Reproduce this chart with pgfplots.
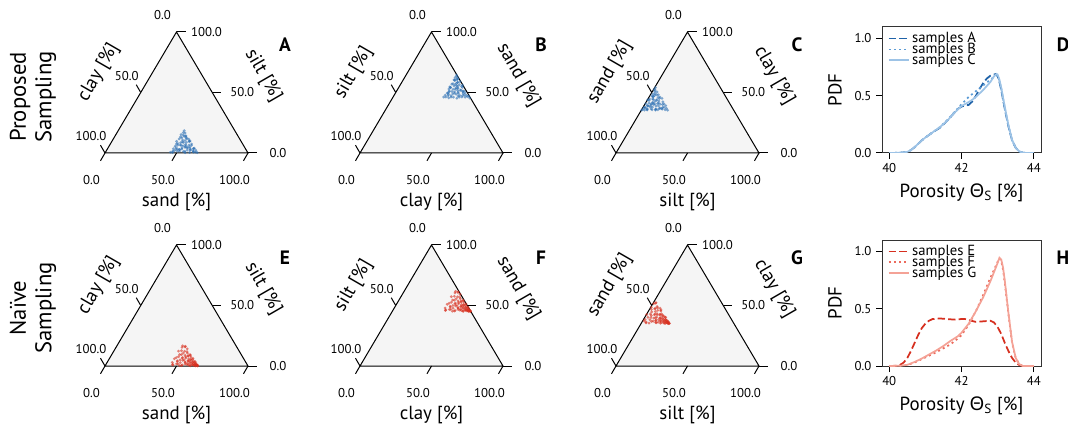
\documentclass[border=0pt]{standalone}
\usepackage{fontspec}
\setmainfont{PT Sans}
\newfontfamily\grk{Noto Sans}
\usepackage{pgfplots}
\usepackage{pgfplotstable}
\pgfplotsset{compat=1.18}

\definecolor{tribg}{HTML}{F5F5F5}
\definecolor{sblue}{HTML}{2C70B4}
\definecolor{sred}{HTML}{D8301F}
\definecolor{bdark}{HTML}{1F62A8}
\definecolor{bmid}{HTML}{5B9BD5}
\definecolor{blight}{HTML}{9DC3E6}
\definecolor{rdark}{HTML}{D62F1F}
\definecolor{rmid}{HTML}{EC6A5C}
\definecolor{rlight}{HTML}{F4A296}

\newcommand{\tickfont}{\fontsize{9.6}{11}\selectfont}
\newcommand{\labfont}{\fontsize{14.2}{16}\selectfont}
\newcommand{\legfont}{\fontsize{11}{11}\selectfont}
\newcommand{\rowfont}{\fontsize{17}{19}\selectfont}
\newcommand{\letfont}{\fontsize{14.5}{16}\selectfont\bfseries}

% proposed sampling (sand, silt, clay in %)
\pgfplotstableread{
sand silt clay
46.6 1.5 51.9
47.6 1.8 50.6
50.9 2.7 46.4
51.3 1.6 47.1
54.2 1.2 44.6
55.1 1.4 43.5
58.5 2.5 39.0
60.6 1.8 37.6
61.6 0.7 37.7
64.4 0.3 35.3
46.3 5.6 48.1
49.2 3.2 47.6
50.1 6.4 43.5
53.5 4.7 41.8
55.6 4.6 39.8
56.6 5.2 38.2
59.9 3.7 36.4
60.3 3.6 36.1
46.2 7.5 46.3
47.1 7.8 45.1
50.5 8.7 40.8
52.6 8.6 38.8
53.6 6.2 40.2
56.9 7.4 35.7
57.3 6.3 36.4
46.1 11.6 42.3
49.5 9.2 41.3
50.6 12.4 37.0
53.9 9.7 36.4
54.3 9.6 36.1
46.2 13.2 40.6
48.5 13.8 37.7
49.6 13.7 36.7
52.9 11.4 35.7
46.3 16.8 36.9
49.5 14.2 36.3
46.2 18.4 35.4
47.8 16.5 35.7
46.1 3.5 50.4
50.6 2.8 46.6
55.9 0.3 43.8
58.3 2.6 39.1
63.2 0.7 36.1
57.5 3.9 38.6
52.1 3.3 44.6
49.9 1.4 48.7
47.6 6.4 46.0
54.6 9.9 35.5
50.8 10.3 38.9
48.9 10.7 40.4
49.3 6.6 44.1
55.2 4.2 40.6
60.5 4.0 35.5
45.3 9.6 45.1
47.4 12.6 40.0
51.6 5.9 42.5
58.9 0.5 40.6
61.2 1.3 37.5
47.5 4.4 48.1
55.5 6.6 37.9
51.3 11.9 36.8
47.4 14.8 37.8
48.6 8.5 42.9
52.7 6.9 40.4
45.6 15.2 39.2
56.4 2.4 41.2
51.7 4.1 44.2
45.4 0.6 54.0
47.0 0.4 52.6
62.4 2.2 35.4
53.7 5.1 41.2
48.2 2.9 48.9
}\rowone

% naive sampling, panel E
\pgfplotstableread{
sand silt clay
45.2 12.3 42.5
45.6 2.9 51.5
46.0 16.7 37.3
46.4 6.9 46.7
46.8 0.9 52.3
47.2 12.6 40.2
47.6 7.7 44.7
48.0 15.8 36.2
48.4 4.3 47.3
48.8 9.4 41.8
49.2 1.7 49.1
49.6 12.2 38.2
50.0 5.0 45.0
50.4 14.2 35.4
50.8 7.0 42.2
51.2 2.8 46.0
51.6 8.8 39.6
52.0 0.3 47.7
52.4 10.6 37.0
52.8 5.0 42.2
53.2 6.5 40.3
53.6 0.9 45.5
54.0 8.1 37.9
54.4 3.2 42.4
54.8 9.3 35.9
55.2 1.7 43.1
55.6 5.9 38.5
56.0 4.1 39.9
56.4 7.4 36.2
56.8 2.0 41.2
57.2 4.1 38.7
57.6 5.1 37.3
58.0 0.9 41.1
58.4 6.3 35.3
58.8 2.4 38.8
59.2 3.5 37.3
59.6 0.2 40.2
60.0 4.1 35.9
60.4 1.3 38.3
60.8 2.1 37.1
61.2 2.8 36.0
61.6 0.6 37.8
62.0 2.7 35.3
62.4 0.9 36.7
62.8 1.3 35.9
63.2 0.2 36.6
63.6 1.1 35.3
64.0 0.4 35.6
64.4 0.6 35.0
64.8 0.0 35.2
45.5 6.0 48.5
46.2 15.4 38.4
46.8 1.3 51.9
47.5 9.5 43.0
48.1 16.2 35.7
48.8 3.7 47.5
49.4 10.6 40.0
50.1 1.8 48.1
50.7 6.4 42.9
51.4 11.8 36.8
52.0 4.7 43.3
52.7 7.5 39.8
53.3 0.4 46.3
54.0 8.4 37.6
54.6 3.0 42.4
55.3 8.9 35.8
55.9 4.4 39.7
56.6 1.3 42.1
57.2 5.5 37.3
57.9 2.8 39.3
58.5 5.5 36.0
59.2 0.5 40.3
59.8 3.0 37.2
60.5 1.2 38.3
61.1 3.7 35.2
61.8 1.1 37.1
62.4 1.7 35.9
63.1 0.3 36.6
63.7 1.0 35.3
64.4 0.3 35.3
}\rowE

% naive sampling, panel F
\pgfplotstableread{
sand silt clay
57.3 7.5 35.2
47.9 16.5 35.6
61.7 2.3 36.0
51.9 11.7 36.4
45.9 17.3 36.8
57.6 5.2 37.2
52.7 9.7 37.6
60.8 1.2 38.0
49.3 12.3 38.4
54.4 6.8 38.8
46.7 14.1 39.2
57.2 3.2 39.6
50.0 10.0 40.0
59.2 0.4 40.4
52.0 7.2 40.8
47.8 11.0 41.2
53.8 4.6 41.6
45.3 12.7 42.0
55.6 2.0 42.4
50.0 7.2 42.8
51.5 5.3 43.2
45.9 10.5 43.6
53.1 2.9 44.0
48.2 7.4 44.4
54.3 0.9 44.8
46.7 8.1 45.2
50.9 3.5 45.6
49.1 4.9 46.0
52.4 1.2 46.4
47.0 6.2 46.8
49.1 3.7 47.2
50.1 2.3 47.6
45.9 6.1 48.0
51.3 0.3 48.4
47.4 3.8 48.8
48.5 2.3 49.2
45.2 5.2 49.6
49.1 0.9 50.0
46.3 3.3 50.4
47.1 2.1 50.8
47.8 1.0 51.2
45.6 2.8 51.6
47.7 0.3 52.0
45.9 1.7 52.4
46.3 0.9 52.8
45.2 1.6 53.2
46.1 0.3 53.6
45.4 0.6 54.0
45.6 0.0 54.4
45.0 0.2 54.8
51.0 13.5 35.5
60.4 3.4 36.2
46.3 16.9 36.8
54.5 8.0 37.5
61.2 0.7 38.1
48.7 12.5 38.8
55.6 5.0 39.4
46.8 13.1 40.1
51.4 7.9 40.7
56.8 1.8 41.4
49.7 8.3 42.0
52.5 4.8 42.7
45.4 11.3 43.3
53.4 2.6 44.0
48.0 7.4 44.6
53.9 0.8 45.3
49.4 4.7 45.9
46.3 7.1 46.6
50.5 2.3 47.2
47.8 4.3 47.9
50.5 1.0 48.5
45.5 5.3 49.2
48.0 2.2 49.8
46.2 3.3 50.5
48.7 0.2 51.1
46.1 2.1 51.8
46.7 0.9 52.4
45.3 1.6 53.1
46.0 0.3 53.7
45.3 0.3 54.4
}\rowF

% naive sampling, panel G
\pgfplotstableread{
sand silt clay
57.3 0.2 42.5
47.9 0.6 51.5
61.7 1.0 37.3
51.9 1.4 46.7
45.9 1.8 52.3
57.6 2.2 40.2
52.7 2.6 44.7
60.8 3.0 36.2
49.3 3.4 47.3
54.4 3.8 41.8
46.7 4.2 49.1
57.2 4.6 38.2
50.0 5.0 45.0
59.2 5.4 35.4
52.0 5.8 42.2
47.8 6.2 46.0
53.8 6.6 39.6
45.3 7.0 47.7
55.6 7.4 37.0
50.0 7.8 42.2
51.5 8.2 40.3
45.9 8.6 45.5
53.1 9.0 37.9
48.2 9.4 42.4
54.3 9.8 35.9
46.7 10.2 43.1
50.9 10.6 38.5
49.1 11.0 39.9
52.4 11.4 36.2
47.0 11.8 41.2
49.1 12.2 38.7
50.1 12.6 37.3
45.9 13.0 41.1
51.3 13.4 35.3
47.4 13.8 38.8
48.5 14.2 37.3
45.2 14.6 40.2
49.1 15.0 35.9
46.3 15.4 38.3
47.1 15.8 37.1
47.8 16.2 36.0
45.6 16.6 37.8
47.7 17.0 35.3
45.9 17.4 36.7
46.3 17.8 35.9
45.2 18.2 36.6
46.1 18.6 35.3
45.4 19.0 35.6
45.6 19.4 35.0
45.0 19.8 35.2
51.0 0.5 48.5
60.4 1.2 38.4
46.3 1.8 51.9
54.5 2.5 43.0
61.2 3.1 35.7
48.7 3.8 47.5
55.6 4.4 40.0
46.8 5.1 48.1
51.4 5.7 42.9
56.8 6.4 36.8
49.7 7.0 43.3
52.5 7.7 39.8
45.4 8.3 46.3
53.4 9.0 37.6
48.0 9.6 42.4
53.9 10.3 35.8
49.4 10.9 39.7
46.3 11.6 42.1
50.5 12.2 37.3
47.8 12.9 39.3
50.5 13.5 36.0
45.5 14.2 40.3
48.0 14.8 37.2
46.2 15.5 38.3
48.7 16.1 35.2
46.1 16.8 37.1
46.7 17.4 35.9
45.3 18.1 36.6
46.0 18.7 35.3
45.3 19.4 35.3
}\rowG

\tikzset{
  tk/.style={line width=0.75pt, black},
  tl/.style={font=\tickfont, inner sep=0pt, anchor=center},
  ttl/.style={font=\labfont, inner sep=0pt, anchor=center},
}
\pgfplotsset{
  ternaxis/.style={anchor=south west, scale only axis, width=107.25pt, height=90.75pt,
    xmin=0, xmax=1, ymin=0, ymax=0.866, hide axis, clip=false},
  pdfaxis/.style={anchor=south west, scale only axis, width=119.25pt, height=94.5pt,
    xmin=39.8, xmax=44.2, ymin=0, ymax=1.1,
    xtick={40,42,44}, xticklabels={40,42,44},
    ytick={0,0.5,1}, yticklabels={0.0,0.5,1.0},
    tick align=outside, xtick pos=bottom, ytick pos=left,
    major tick length=4.5pt, tick style={line width=0.75pt, black},
    axis line style={line width=0.75pt, black!80},
    ticklabel style={font=\tickfont},
    xlabel style={font=\labfont, at={(axis description cs:0.5,-0.317)}, anchor=center},
    ylabel style={font=\labfont, at={(axis description cs:-0.296,0.5)}, anchor=center},
    xlabel={Porosity {\grk Θ}\textsubscript{S} [\%]}, ylabel={PDF},
    legend style={at={(axis description cs:0.035,0.975)}, anchor=north west, draw=none, fill=none,
      inner sep=0pt, row sep=-4.2pt, font=\legfont, nodes={inner sep=1.5pt}},
    legend cell align=left,
    legend image code/.code={\draw[#1] (0pt,0pt) -- (15.5pt,0pt);},
  },
  pts/.style={only marks, mark=*, mark size=1.15pt, mark options={draw opacity=0, fill=#1, fill opacity=0.6}},
}

% #1 position, #2 table, #3 bottom column, #4 right column,
% #5 bottom title, #6 left title, #7 right title, #8 colour
\newcommand{\ternpanel}[8]{%
\begin{axis}[ternaxis, at={#1}]
\fill[tribg] (axis cs:0,0) -- (axis cs:1,0) -- (axis cs:0.5,0.866) -- cycle;
\draw[line width=0.75pt, black, line join=miter] (axis cs:0,0) -- (axis cs:1,0) -- (axis cs:0.5,0.866) -- cycle;
\draw[tk] (axis cs:0,0) -- ++(-3.4pt,-5.85pt);
\draw[tk] (axis cs:0.5,0) -- ++(-3.4pt,-5.85pt);
\draw[tk] (axis cs:1,0) -- ++(-3.4pt,-5.85pt);
\draw[tk] (axis cs:0,0) -- ++(-3.4pt,5.85pt);
\draw[tk] (axis cs:0.25,0.433) -- ++(-3.4pt,5.85pt);
\draw[tk] (axis cs:1,0) -- ++(6.75pt,0pt);
\draw[tk] (axis cs:0.75,0.433) -- ++(6.75pt,0pt);
\draw[tk] (axis cs:0.5,0.866) -- ++(6.75pt,0pt);
\node[tl, xshift=-10.1pt, yshift=-20.3pt] at (axis cs:0,0) {0.0};
\node[tl, xshift=-10.1pt, yshift=-20.3pt] at (axis cs:0.5,0) {50.0};
\node[tl, xshift=-10.1pt, yshift=-20.3pt] at (axis cs:1,0) {100.0};
\node[tl, xshift=-10.5pt, yshift=12.4pt] at (axis cs:0,0) {100.0};
\node[tl, xshift=-10.5pt, yshift=12.4pt] at (axis cs:0.25,0.433) {50.0};
\node[tl, xshift=-10.5pt, yshift=12.4pt] at (axis cs:0.5,0.866) {0.0};
\node[tl, xshift=22.5pt] at (axis cs:1,0) {0.0};
\node[tl, xshift=22.5pt] at (axis cs:0.75,0.433) {50.0};
\node[tl, xshift=22.5pt] at (axis cs:0.5,0.866) {100.0};
\node[ttl, yshift=-36.75pt] at (axis cs:0.5,0) {#5};
\node[ttl, rotate=60] at ([xshift=-31.5pt, yshift=15pt]axis cs:0.25,0.433) {#6};
\node[ttl, rotate=-60] at ([xshift=38.25pt, yshift=12.75pt]axis cs:0.75,0.433) {#7};
\addplot[pts=#8] table[x expr={(\thisrow{#3}+0.5*\thisrow{#4})/100}, y expr={0.866*\thisrow{#4}/100}] {#2};
\end{axis}}

\begin{document}
\begin{tikzpicture}
\path[use as bounding box] (0,0) rectangle (801pt,321.75pt);

% row labels
\node[font=\rowfont, rotate=90, align=center] at (24.75pt,249pt) {Proposed\\Sampling};
\node[font=\rowfont, rotate=90, align=center] at (24.75pt,90.75pt) {Naïve\\Sampling};

% row 1
\ternpanel{(78.75pt,207pt)}{\rowone}{sand}{silt}{sand [\%]}{clay [\%]}{silt [\%]}{sblue}
\ternpanel{(270pt,207pt)}{\rowone}{clay}{sand}{clay [\%]}{silt [\%]}{sand [\%]}{sblue}
\ternpanel{(462pt,207pt)}{\rowone}{silt}{clay}{silt [\%]}{sand [\%]}{clay [\%]}{sblue}

% row 2
\ternpanel{(78.75pt,47.25pt)}{\rowE}{sand}{silt}{sand [\%]}{clay [\%]}{silt [\%]}{sred}
\ternpanel{(270pt,47.25pt)}{\rowF}{clay}{sand}{clay [\%]}{silt [\%]}{sand [\%]}{sred}
\ternpanel{(462pt,47.25pt)}{\rowG}{silt}{clay}{silt [\%]}{sand [\%]}{clay [\%]}{sred}

% D
\begin{axis}[pdfaxis, at={(661.5pt,207pt)}]
\addplot[bdark, line width=1.3pt, dash pattern=on 5.5pt off 2.4pt] coordinates {
(40.0,0) (40.3,0.002) (40.5,0.01) (40.6,0.025) (40.7,0.05) (40.8,0.08) (40.9,0.11) (41.0,0.135)
(41.2,0.18) (41.4,0.22) (41.6,0.28) (41.8,0.35) (41.9,0.385) (42.0,0.405) (42.1,0.415) (42.2,0.42)
(42.3,0.45) (42.4,0.50) (42.5,0.56) (42.6,0.61) (42.7,0.65) (42.8,0.675) (42.9,0.685) (42.95,0.69)
(43.0,0.67) (43.05,0.62) (43.1,0.55) (43.2,0.38) (43.3,0.23) (43.4,0.11) (43.5,0.045) (43.6,0.013)
(43.7,0.003) (43.8,0) (44.0,0)};
\addplot[bmid, line width=1.3pt, dash pattern=on 1.5pt off 2.4pt] coordinates {
(40.0,0) (40.3,0.002) (40.5,0.01) (40.6,0.025) (40.7,0.05) (40.8,0.08) (40.9,0.11) (41.0,0.135)
(41.2,0.18) (41.4,0.225) (41.6,0.285) (41.8,0.355) (42.0,0.425) (42.2,0.49) (42.3,0.515) (42.4,0.54)
(42.6,0.59) (42.8,0.64) (42.9,0.665) (42.97,0.68) (43.0,0.675) (43.05,0.63) (43.1,0.56) (43.2,0.39)
(43.3,0.235) (43.4,0.11) (43.5,0.045) (43.6,0.013) (43.7,0.003) (43.8,0) (44.0,0)};
\addplot[blight, line width=1.3pt] coordinates {
(40.0,0) (40.3,0.002) (40.5,0.01) (40.6,0.025) (40.7,0.05) (40.8,0.08) (40.9,0.11) (41.0,0.135)
(41.2,0.18) (41.4,0.225) (41.6,0.28) (41.8,0.35) (42.0,0.41) (42.2,0.445) (42.3,0.465) (42.4,0.49)
(42.6,0.55) (42.8,0.62) (42.9,0.67) (42.97,0.69) (43.0,0.685) (43.05,0.64) (43.1,0.57) (43.2,0.40)
(43.3,0.24) (43.4,0.115) (43.5,0.045) (43.6,0.013) (43.7,0.003) (43.8,0) (44.0,0)};
\legend{samples A, samples B, samples C}
\end{axis}

% H
\begin{axis}[pdfaxis, at={(661.5pt,47.25pt)}]
\addplot[rdark, line width=1.3pt, dash pattern=on 5.5pt off 2.4pt] coordinates {
(40.0,0) (40.2,0.002) (40.3,0.01) (40.4,0.03) (40.5,0.07) (40.6,0.13) (40.7,0.2) (40.8,0.27)
(40.9,0.33) (41.0,0.37) (41.1,0.395) (41.2,0.41) (41.4,0.415) (41.6,0.41) (41.8,0.405) (42.0,0.41)
(42.1,0.41) (42.2,0.40) (42.4,0.385) (42.6,0.39) (42.8,0.395) (42.9,0.38) (43.0,0.34) (43.1,0.28)
(43.2,0.2) (43.3,0.13) (43.4,0.07) (43.5,0.03) (43.6,0.008) (43.7,0) (44.0,0)};
\addplot[rmid, line width=1.3pt, dash pattern=on 1.5pt off 2.4pt] coordinates {
(40.0,0) (40.3,0.002) (40.5,0.01) (40.7,0.03) (40.9,0.06) (41.1,0.09) (41.3,0.12) (41.5,0.155)
(41.7,0.19) (41.9,0.24) (42.0,0.27) (42.2,0.36) (42.4,0.48) (42.6,0.62) (42.8,0.77) (42.9,0.84)
(43.0,0.91) (43.05,0.94) (43.1,0.92) (43.15,0.84) (43.2,0.72) (43.3,0.45) (43.4,0.2) (43.5,0.07)
(43.6,0.015) (43.7,0) (44.0,0)};
\addplot[rlight, line width=1.3pt] coordinates {
(40.0,0) (40.3,0.002) (40.5,0.01) (40.7,0.035) (40.9,0.065) (41.1,0.1) (41.3,0.135) (41.5,0.175)
(41.7,0.22) (41.9,0.26) (42.0,0.29) (42.2,0.37) (42.4,0.48) (42.6,0.6) (42.8,0.74) (42.9,0.82)
(43.0,0.9) (43.05,0.945) (43.1,0.93) (43.15,0.86) (43.2,0.74) (43.3,0.46) (43.4,0.21) (43.5,0.07)
(43.6,0.015) (43.7,0) (44.0,0)};
\legend{samples E, samples F, samples G}
\end{axis}

% panel letters
\node[font=\letfont] at (213.75pt,288pt) {A};
\node[font=\letfont] at (405.75pt,288pt) {B};
\node[font=\letfont] at (597.75pt,288pt) {C};
\node[font=\letfont] at (797.25pt,288pt) {D};
\node[font=\letfont] at (213.75pt,128.25pt) {E};
\node[font=\letfont] at (405.75pt,128.25pt) {F};
\node[font=\letfont] at (597.75pt,128.25pt) {G};
\node[font=\letfont] at (797.25pt,128.25pt) {H};
\end{tikzpicture}
\end{document}
